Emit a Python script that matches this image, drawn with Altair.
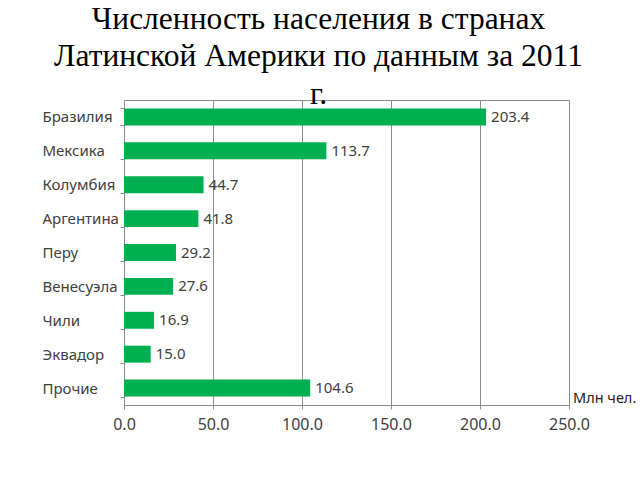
import altair as alt
import pandas as pd

countries = ["Бразилия", "Мексика", "Колумбия", "Аргентина", "Перу",
             "Венесуэла", "Чили", "Эквадор", "Прочие"]
population = [203.4, 113.7, 44.7, 41.8, 29.2, 27.6, 16.9, 15.0, 104.6]
x_ticks = [0, 50, 100, 150, 200, 250]
title_lines = ["Численность населения в странах",
               "Латинской Америки по данным за 2011", "г."]
unit_label = "Млн чел."

df = pd.DataFrame({"country": countries, "value": population})

GRID = "#8c8c8c"
TXT = "#404040"

y_enc = alt.Y("country:N", sort=countries, title=None,
              scale=alt.Scale(paddingInner=0.5, paddingOuter=0.25),
              axis=alt.Axis(labelAlign="left", labelPadding=78, tickSize=4,
                            tickBand="extent", labelFont="Noto Sans",
                            labelFontSize=15, labelColor=TXT,
                            domainColor=GRID, tickColor=GRID, grid=False))
x_enc = alt.X("value:Q", title=None,
              scale=alt.Scale(domain=[0, 250], nice=False),
              axis=alt.Axis(values=x_ticks, format=".1f", labelFont="Noto Sans",
                            labelFontSize=16, labelColor=TXT, labelPadding=7,
                            labelFlush=False,
                            tickSize=4, tickColor=GRID, domainColor=GRID,
                            grid=True, gridColor=GRID, gridOpacity=1))

bars = alt.Chart(df).mark_bar(color="#00B050").encode(x=x_enc, y=y_enc)
labels = alt.Chart(df).mark_text(align="left", baseline="middle", dx=5,
                                 font="Noto Sans", fontSize=15, color=TXT).encode(
    x="value:Q", y=alt.Y("country:N", sort=countries), text=alt.Text("value:Q", format=".1f"))
unit = alt.Chart(pd.DataFrame({"t": [unit_label]})).mark_text(
    align="left", baseline="middle", font="Noto Sans", fontSize=14.5, color="#222222"
).encode(x=alt.value(449), y=alt.value(299), text="t:N")

chart = alt.layer(bars, labels, unit).properties(
    width=445, height=305,
    autosize=alt.AutoSizeParams(type="none"),
    padding={"left": 124, "top": 100, "right": 71, "bottom": 75},
    title=alt.Title(title_lines, font="Liberation Serif", fontSize=31.5,
                    fontWeight="normal", color="black", lineHeight=37.5,
                    anchor="middle", frame="group", dx=-28, offset=-17),
).configure_view(stroke=GRID, strokeWidth=1)

chart.save("out.html", embed_options={"renderer": "svg", "actions": False})
